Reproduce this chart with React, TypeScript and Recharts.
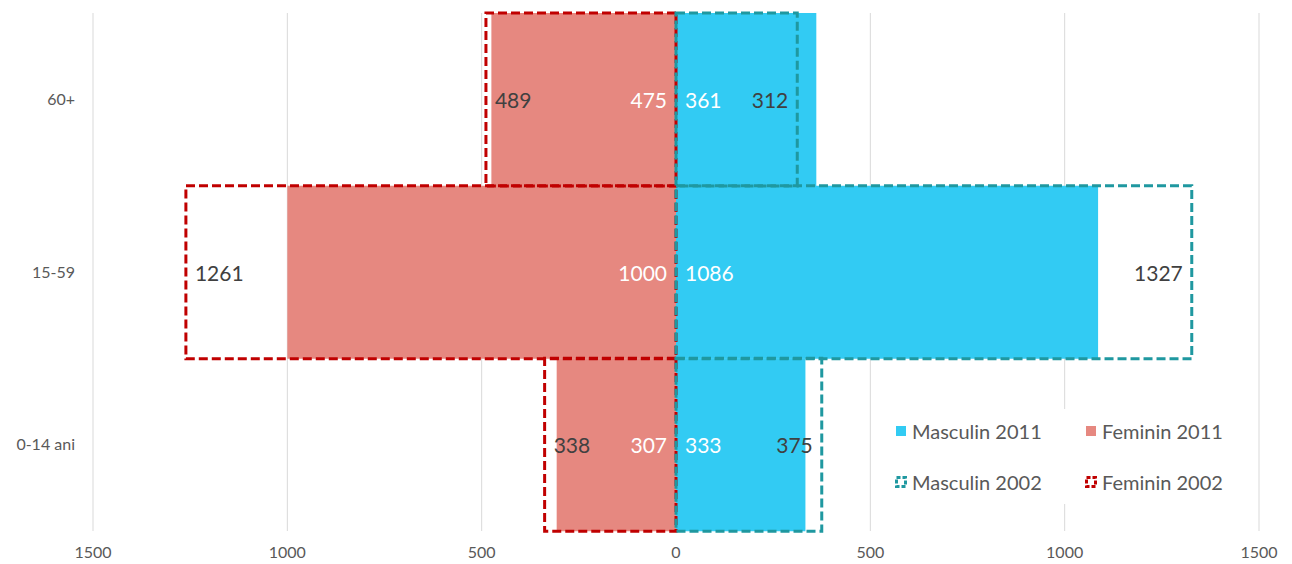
import { Bar, BarChart, CartesianGrid, LabelList, Legend, XAxis, YAxis } from "recharts";

const AGE_GROUPS = ["60+", "15-59", "0-14 ani"];
const MALE_2011 = [361, 1086, 333];
const FEMALE_2011 = [475, 1000, 307];
const MALE_2002 = [312, 1327, 375];
const FEMALE_2002 = [489, 1261, 338];
const X_TICKS = [-1500, -1000, -500, 0, 500, 1000, 1500];

const LEGEND_ITEMS = [
  { name: "Masculin 2011", color: "#32cbf3", dashed: false },
  { name: "Feminin 2011", color: "#e68880", dashed: false },
  { name: "Masculin 2002", color: "#1f98a0", dashed: true },
  { name: "Feminin 2002", color: "#c00000", dashed: true },
];

const FONT = "Lato, 'Open Sans', sans-serif";

// women go to the left, so they are stored negative
const data = AGE_GROUPS.map((age, i) => ({
  age,
  m2011: MALE_2011[i],
  f2011: -FEMALE_2011[i],
  m2002: MALE_2002[i],
  f2002: -FEMALE_2002[i],
}));

function valueLabel(side: "left" | "right", color: string) {
  return (props: any) => {
    const box = props.viewBox && props.viewBox.width !== undefined ? props.viewBox : props;
    const x = Number(box.x);
    const w = Number(box.width);
    const y = Number(box.y);
    const h = Number(box.height);
    const left = Math.min(x, x + w);
    const right = Math.max(x, x + w);
    return (
      <text
        x={side === "left" ? left + 9 : right - 9}
        y={y + h / 2}
        textAnchor={side === "left" ? "start" : "end"}
        dominantBaseline="central"
        fill={color}
        fontSize={21}
        fontFamily={FONT}
      >
        {Math.abs(Number(props.value))}
      </text>
    );
  };
}

function LegendBox() {
  return (
    <div
      style={{
        display: "grid",
        gridTemplateColumns: "190px 160px",
        rowGap: 27,
        background: "#fff",
        padding: "10px 0 10px 21px",
        fontFamily: FONT,
        fontSize: 20,
        lineHeight: "24px",
        color: "#595959",
      }}
    >
      {LEGEND_ITEMS.map((item) => (
        <div key={item.name} style={{ display: "flex", alignItems: "center", gap: 5 }}>
          <svg width={12} height={12}>
            {item.dashed ? (
              <rect x={1.5} y={1.5} width={9} height={9} fill="none" stroke={item.color} strokeWidth={3} strokeDasharray="4 2" />
            ) : (
              <rect x={1} y={1} width={10} height={10} fill={item.color} />
            )}
          </svg>
          <span>{item.name}</span>
        </div>
      ))}
    </div>
  );
}

export default function App() {
  return (
    <div style={{ position: "absolute", left: 0, top: 0 }}>
      <BarChart
        width={1292}
        height={564}
        data={data}
        layout="vertical"
        stackOffset="sign"
        barCategoryGap={0}
        margin={{ top: 13, right: 33, bottom: 0, left: 0 }}
      >
        <CartesianGrid horizontal={false} stroke="#d9d9d9" yAxisId="a" />
        <XAxis
          type="number"
          domain={[-1500, 1500]}
          ticks={X_TICKS}
          tickFormatter={(v: number) => String(Math.abs(v))}
          axisLine={false}
          tickLine={false}
          height={33}
          tickMargin={10}
          tick={{ fontSize: 16, fill: "#595959", fontFamily: FONT }}
        />
        <YAxis
          yAxisId="a"
          type="category"
          dataKey="age"
          width={93}
          axisLine={false}
          tickLine={false}
          tickMargin={12}
          tick={{ fontSize: 16, fill: "#595959", fontFamily: FONT }}
        />
        <YAxis yAxisId="b" type="category" dataKey="age" hide />
        <Bar dataKey="f2011" yAxisId="a" stackId="y2011" fill="#e68880" isAnimationActive={false}>
          <LabelList dataKey="f2011" content={valueLabel("right", "#ffffff")} />
        </Bar>
        <Bar dataKey="m2011" yAxisId="a" stackId="y2011" fill="#32cbf3" isAnimationActive={false}>
          <LabelList dataKey="m2011" content={valueLabel("left", "#ffffff")} />
        </Bar>
        <Bar
          dataKey="f2002"
          yAxisId="b"
          stackId="y2002"
          fill="none"
          stroke="#c00000"
          strokeWidth={3}
          strokeDasharray="9 4"
          isAnimationActive={false}
        >
          <LabelList dataKey="f2002" content={valueLabel("left", "#404040")} />
        </Bar>
        <Bar
          dataKey="m2002"
          yAxisId="b"
          stackId="y2002"
          fill="none"
          stroke="#1f98a0"
          strokeWidth={3}
          strokeDasharray="9 4"
          isAnimationActive={false}
        >
          <LabelList dataKey="m2002" content={valueLabel("right", "#404040")} />
        </Bar>
        <Legend
          layout="vertical"
          align="center"
          verticalAlign="middle"
          wrapperStyle={{ left: 874, top: 409, width: 370 }}
          content={() => <LegendBox />}
        />
      </BarChart>
    </div>
  );
}
